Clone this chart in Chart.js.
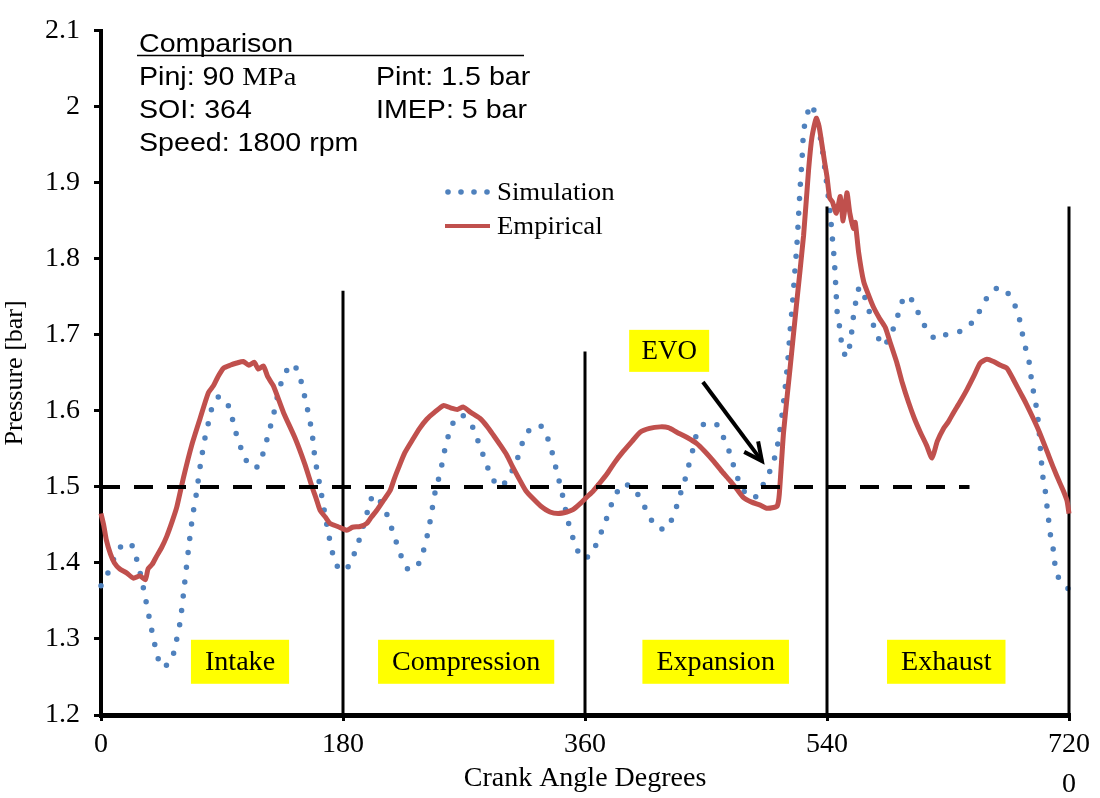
<!DOCTYPE html>
<html>
<head>
<meta charset="utf-8">
<script src="https://cdn.jsdelivr.net/npm/chart.js@4.4.1/dist/chart.umd.min.js"></script>
<style>
  html, body { margin: 0; background: #fff; }
  #wrap { width: 1100px; height: 798px; position: relative; }
</style>
</head>
<body>
<div id="wrap"><canvas id="c"></canvas></div>
<script>
// tick values / labels
const angleTicks = [0, 180, 360, 540, 720];
const pressureTicks = [1.2, 1.3, 1.4, 1.5, 1.6, 1.7, 1.8, 1.9, 2.0, 2.1];
const pressureLabels = ['1.2', '1.3', '1.4', '1.5', '1.6', '1.7', '1.8', '1.9', '2', '2.1'];

// simulation (dotted blue)
const simAngle = [0, 6, 12, 17, 22, 26, 30, 33, 37, 41, 45, 50, 53, 56, 59, 62, 65, 68, 71, 74,
  77.4, 80, 82.4, 87.8, 94.7, 100.4, 107.6, 114.6, 119.6, 125.3, 128.2, 132, 136.4, 142.6, 147.5, 152.5, 156.8, 159.2, 163, 168,
  172.8, 177.3, 181, 185, 189, 192.7, 197, 200.9, 204, 208, 213.8, 216.8, 220.5, 224, 229.4, 236.6, 240.3, 242.8, 244.8, 248.5,
  251, 253.5, 255.5, 258, 261.5, 268, 277, 280.7, 284.4, 288.2, 292.6, 297, 301, 306, 310.5, 313.7, 318.7, 326.6, 332, 335.3,
  337.8, 340.3, 342.8, 345, 347.2, 350.2, 353.4, 358.9, 362, 366.3, 370.8, 375, 378.2, 382.4, 388.2, 396.8, 401.8, 407.3, 412.2, 420.4,
  425.4, 429, 432, 435.3, 437.8, 440.7, 443.2, 449.4, 458, 463, 466.8, 470, 473, 478, 484, 489, 493.3, 497.8, 501, 503.3,
  506.5, 509, 511, 512.6, 514.4, 515.9, 517.6, 518.8, 520, 521.4, 522.6, 524.6, 528.3, 532, 536, 539, 542.4, 543.6, 545.4, 546.6,
  547.8, 549.9, 551, 554.3, 557.3, 558.5, 559.8, 561.5, 564.2, 568, 573.4, 577.1, 582.1, 587, 591.5, 594, 598.7, 605.2, 608.9, 614.4,
  621.3, 630.4, 642.1, 649, 654.8, 660.2, 668.4, 676.4, 680.8, 683.8, 685.8, 688.2, 690.7, 692, 693.7, 695.7, 697.5, 698.7, 700.6, 702.4,
  703.6, 704.8, 706.1, 708.1, 709.3, 711.5, 717.3, 720];
const simPressure = [1.37, 1.39, 1.415, 1.425, 1.426, 1.408, 1.38, 1.354, 1.318, 1.285, 1.263, 1.267, 1.275, 1.297, 1.324, 1.37, 1.417, 1.46, 1.492, 1.53,
  1.565, 1.585, 1.603, 1.619, 1.607, 1.571, 1.536, 1.524, 1.539, 1.575, 1.594, 1.625, 1.648, 1.662, 1.647, 1.611, 1.573, 1.537, 1.50, 1.45,
  1.409, 1.391, 1.39, 1.398, 1.415, 1.434, 1.46, 1.484, 1.49, 1.48, 1.459, 1.442, 1.423, 1.406, 1.39, 1.40, 1.419, 1.437, 1.455, 1.493,
  1.51, 1.529, 1.547, 1.565, 1.583, 1.595, 1.577, 1.559, 1.541, 1.523, 1.507, 1.50, 1.507, 1.522, 1.541, 1.559, 1.575, 1.581, 1.565, 1.547,
  1.529, 1.511, 1.493, 1.475, 1.456, 1.438, 1.42, 1.405, 1.408, 1.417, 1.435, 1.453, 1.47, 1.488, 1.504, 1.497, 1.481, 1.465, 1.448, 1.445,
  1.461, 1.479, 1.497, 1.515, 1.533, 1.552, 1.57, 1.584, 1.582, 1.565, 1.549, 1.531, 1.514, 1.495, 1.485, 1.49, 1.506, 1.522, 1.538, 1.556,
  1.594, 1.632, 1.669, 1.706, 1.743, 1.779, 1.818, 1.855, 1.893, 1.93, 1.967, 1.986, 2.003, 1.985, 1.95, 1.91, 1.86, 1.835, 1.799, 1.762,
  1.725, 1.706, 1.687, 1.671, 1.689, 1.706, 1.726, 1.744, 1.763, 1.75, 1.719, 1.70, 1.685, 1.70, 1.717, 1.735, 1.752, 1.741, 1.724, 1.707,
  1.694, 1.702, 1.706, 1.719, 1.735, 1.752, 1.763, 1.751, 1.734, 1.716, 1.697, 1.679, 1.661, 1.642, 1.624, 1.605, 1.58, 1.55, 1.513, 1.494,
  1.475, 1.457, 1.438, 1.42, 1.401, 1.383, 1.37, 1.365];

// empirical (solid red)
const empAngle = [0, 2, 4, 7, 10, 14, 19, 24, 29, 33, 35, 38, 41.4, 45, 48.9, 53, 56.3, 61.3, 67.5, 73.7,
  79.9, 83.6, 87, 91, 96, 101, 105.9, 110, 114, 117, 120.8, 124, 128.2, 135.7, 144.4, 151.8, 156.8, 160, 163, 167,
  170.4, 176, 182.8, 187, 192.7, 197.7, 201, 205, 210, 215, 218, 221.3, 226, 232.4, 237, 242.3, 248, 254.7, 260, 265,
  269.6, 275, 282, 287, 291.9, 297, 301.8, 306, 311.8, 316, 321.7, 327, 334, 340, 346.5, 351, 356.4, 361, 366.3, 370,
  376.3, 382, 388.6, 395, 401, 408, 415.9, 422, 428.3, 436, 443.2, 449, 455.6, 462, 468, 473, 477.9, 484, 490.3, 495,
  500.3, 503, 504.5, 507.7, 512.7, 517.6, 522.6, 526.3, 528.8, 532, 534, 536.2, 538, 540, 542, 544, 547, 549.9, 552, 554.8,
  557, 559.8, 561, 563.5, 567.3, 571, 574.7, 579, 583.3, 587, 592, 596, 600.7, 605, 609.4, 614, 618.1, 622, 626.7, 630,
  634.2, 639, 644.1, 649, 654, 659, 663.9, 669, 673.9, 679, 683.8, 688, 693.7, 698, 703.6, 708, 713.5, 716, 718.5, 720];
const empPressure = [1.465, 1.45, 1.43, 1.412, 1.40, 1.392, 1.387, 1.38, 1.383, 1.378, 1.392, 1.398, 1.409, 1.42, 1.435, 1.455, 1.473, 1.512, 1.555, 1.59,
  1.624, 1.633, 1.645, 1.656, 1.66, 1.663, 1.665, 1.66, 1.664, 1.655, 1.659, 1.645, 1.633, 1.598, 1.564, 1.529, 1.501, 1.485, 1.469, 1.46,
  1.452, 1.448, 1.443, 1.447, 1.448, 1.452, 1.46, 1.469, 1.482, 1.495, 1.51, 1.525, 1.545, 1.564, 1.577, 1.589, 1.598, 1.607, 1.604, 1.602,
  1.605, 1.598, 1.59, 1.58, 1.568, 1.555, 1.542, 1.527, 1.508, 1.495, 1.484, 1.475, 1.467, 1.465, 1.467, 1.47, 1.478, 1.486, 1.495, 1.503,
  1.517, 1.532, 1.547, 1.56, 1.572, 1.577, 1.579, 1.578, 1.572, 1.565, 1.557, 1.547, 1.534, 1.52, 1.508, 1.497, 1.486, 1.48, 1.476, 1.472,
  1.473, 1.475, 1.49, 1.572, 1.659, 1.745, 1.831, 1.917, 1.96, 1.985, 1.975, 1.951, 1.93, 1.908, 1.88, 1.875, 1.86, 1.882, 1.85, 1.887,
  1.86, 1.84, 1.848, 1.809, 1.77, 1.752, 1.736, 1.722, 1.71, 1.69, 1.663, 1.637, 1.611, 1.59, 1.572, 1.555, 1.538, 1.56, 1.577, 1.585,
  1.598, 1.612, 1.628, 1.645, 1.663, 1.668, 1.665, 1.66, 1.656, 1.64, 1.624, 1.61, 1.589, 1.572, 1.547, 1.527, 1.504, 1.494, 1.482, 1.465];

// stroke boundaries and labels
const phaseAngles = [180, 360, 540, 720];
const phaseTops = [1.758, 1.678, 1.869, 1.869];
const phaseNames = ['Intake', 'Compression', 'Expansion', 'Exhaust'];
const phaseLabelAngles = [103.4, 271.6, 457.2, 628.7];
const refPressure = 1.5;
const refEnd = 646;

const serif = '"Liberation Serif", "Times New Roman", serif';
const sans = '"Liberation Sans", Arial, sans-serif';

const toXY = (xs, ys) => xs.map((x, i) => ({ x: x, y: ys[i] }));

// text a bit wider than the font, like the original figure
function wideText(ctx, t, x, y, sx) {
  ctx.save();
  ctx.translate(x, y);
  ctx.scale(sx, 1);
  ctx.fillText(t, 0, 0);
  const w = ctx.measureText(t).width * sx;
  ctx.restore();
  return w;
}

// text, boxes and arrow on top of the plot
const notes = {
  id: 'notes',
  afterDraw(chart) {
    const { ctx, scales: { x, y } } = chart;
    ctx.save();
    ctx.textBaseline = 'middle';

    // yellow stroke labels
    ctx.font = '27px ' + serif;
    ctx.textAlign = 'center';
    phaseNames.forEach((t, i) => {
      const cx = x.getPixelForValue(phaseLabelAngles[i]);
      const cy = y.getPixelForValue(1.27);
      const w = ctx.measureText(t).width * 1.04 + 28;
      ctx.fillStyle = '#FFFF00';
      ctx.fillRect(cx - w / 2, cy - 22, w, 44);
      ctx.fillStyle = '#000';
      wideText(ctx, t, cx, cy + 1, 1.04);
    });

    // EVO box + arrow
    const ex = x.getPixelForValue(422.6), ey = y.getPixelForValue(1.679);
    ctx.fillStyle = '#FFFF00';
    ctx.fillRect(ex - 40, ey - 21, 80, 42);
    ctx.fillStyle = '#000';
    ctx.fillText('EVO', ex, ey + 1);

    const ax0 = x.getPixelForValue(447.7), ay0 = y.getPixelForValue(1.638);
    const ax1 = x.getPixelForValue(491.6), ay1 = y.getPixelForValue(1.534);
    const ang = Math.atan2(ay1 - ay0, ax1 - ax0);
    ctx.strokeStyle = '#000';
    ctx.lineWidth = 4;
    ctx.lineCap = 'butt';
    ctx.beginPath();
    ctx.moveTo(ax0, ay0);
    ctx.lineTo(ax1, ay1);
    ctx.stroke();
    ctx.beginPath();
    ctx.moveTo(ax1 - 20 * Math.cos(ang - 0.45), ay1 - 20 * Math.sin(ang - 0.45));
    ctx.lineTo(ax1, ay1);
    ctx.lineTo(ax1 - 20 * Math.cos(ang + 0.45), ay1 - 20 * Math.sin(ang + 0.45));
    ctx.stroke();

    // legend
    ctx.fillStyle = '#4F81BD';
    [448, 461, 474, 487].forEach(px => {
      ctx.beginPath();
      ctx.arc(px, 192, 2.8, 0, Math.PI * 2);
      ctx.fill();
    });
    ctx.strokeStyle = '#C0504D';
    ctx.lineWidth = 4;
    ctx.beginPath();
    ctx.moveTo(445, 226);
    ctx.lineTo(490, 226);
    ctx.stroke();
    ctx.fillStyle = '#000';
    ctx.textAlign = 'left';
    ctx.font = '26px ' + serif;
    wideText(ctx, 'Simulation', 497, 193, 1.03);
    wideText(ctx, 'Empirical', 497, 227, 1.03);

    // operating conditions
    ctx.textBaseline = 'alphabetic';
    const sx = 1.1;
    ctx.font = '26px ' + sans;
    wideText(ctx, 'Comparison', 139, 52, sx);
    ctx.lineWidth = 1.5;
    ctx.strokeStyle = '#000';
    ctx.beginPath();
    ctx.moveTo(137, 55.5);
    ctx.lineTo(524, 55.5);
    ctx.stroke();
    const pw = wideText(ctx, 'Pinj: 90 ', 139, 85, sx);
    ctx.font = '26px ' + serif;
    wideText(ctx, 'MPa', 139 + pw, 85, sx);
    ctx.font = '26px ' + sans;
    wideText(ctx, 'Pint: 1.5 bar', 376, 85, sx);
    wideText(ctx, 'SOI: 364', 139, 118, sx);
    wideText(ctx, 'IMEP: 5 bar', 376, 118, sx);
    wideText(ctx, 'Speed: 1800 rpm', 139, 151, sx);

    // second label under 720
    ctx.font = '28px ' + serif;
    ctx.textAlign = 'center';
    ctx.textBaseline = 'middle';
    ctx.fillText('0', x.getPixelForValue(720), 785);
    ctx.restore();
  }
};

new Chart(document.getElementById('c'), {
  type: 'line',
  data: {
    datasets: [
      {
        label: 'ref',
        data: [{ x: 0, y: refPressure }, { x: refEnd, y: refPressure }],
        borderColor: '#000', borderWidth: 4, borderDash: [19, 14],
        pointRadius: 0, order: -1
      },
      {
        label: 'Empirical',
        data: toXY(empAngle, empPressure),
        borderColor: '#C0504D', borderWidth: 5,
        pointRadius: 0, tension: 0.2, order: 0, clip: 6
      },
      ...phaseAngles.map((a, i) => ({
        label: 'phase' + i,
        data: [{ x: a, y: 1.2 }, { x: a, y: phaseTops[i] }],
        borderColor: '#000', borderWidth: 3,
        pointRadius: 0, order: 1, clip: 6
      })),
      {
        label: 'Simulation',
        data: toXY(simAngle, simPressure),
        borderColor: '#4F81BD', borderWidth: 5.5,
        borderDash: [0, 14.5], borderCapStyle: 'round',
        pointRadius: 0, tension: 0.25, order: 2, clip: 6
      }
    ]
  },
  options: {
    responsive: true,
    maintainAspectRatio: false,
    animation: false,
    layout: { padding: { top: 18, right: 31, left: 0, bottom: 0 } },
    plugins: { legend: { display: false }, tooltip: { enabled: false } },
    scales: {
      x: {
        type: 'linear', min: 0, max: 720,
        afterBuildTicks: s => { s.ticks = angleTicks.map(v => ({ value: v })); },
        ticks: { font: { family: serif, size: 28 }, color: '#000', padding: 7, maxRotation: 0, autoSkip: false },
        grid: { drawOnChartArea: false, drawTicks: true, tickLength: 6, color: '#000', lineWidth: 3 },
        border: { color: '#000', width: 5 },
        title: { display: true, text: 'Crank Angle Degrees', font: { family: serif, size: 28 }, color: '#000', padding: { top: 0, bottom: 3 } },
        afterFit: s => { s.height = 83; }
      },
      y: {
        min: 1.2, max: 2.1,
        afterBuildTicks: s => { s.ticks = pressureTicks.map(v => ({ value: v })); },
        ticks: {
          font: { family: serif, size: 28 }, color: '#000', padding: 14,
          callback: (v, i) => pressureLabels[i]
        },
        grid: { drawOnChartArea: false, drawTicks: true, tickLength: 7, color: '#000', lineWidth: 3 },
        border: { color: '#000', width: 4 },
        title: { display: true, text: 'Pressure [bar]', font: { family: serif, size: 26 }, color: '#000', padding: { top: 0, bottom: 0 } },
        afterFit: s => { s.width = 101; }
      }
    }
  },
  plugins: [notes]
});
</script>
</body>
</html>
